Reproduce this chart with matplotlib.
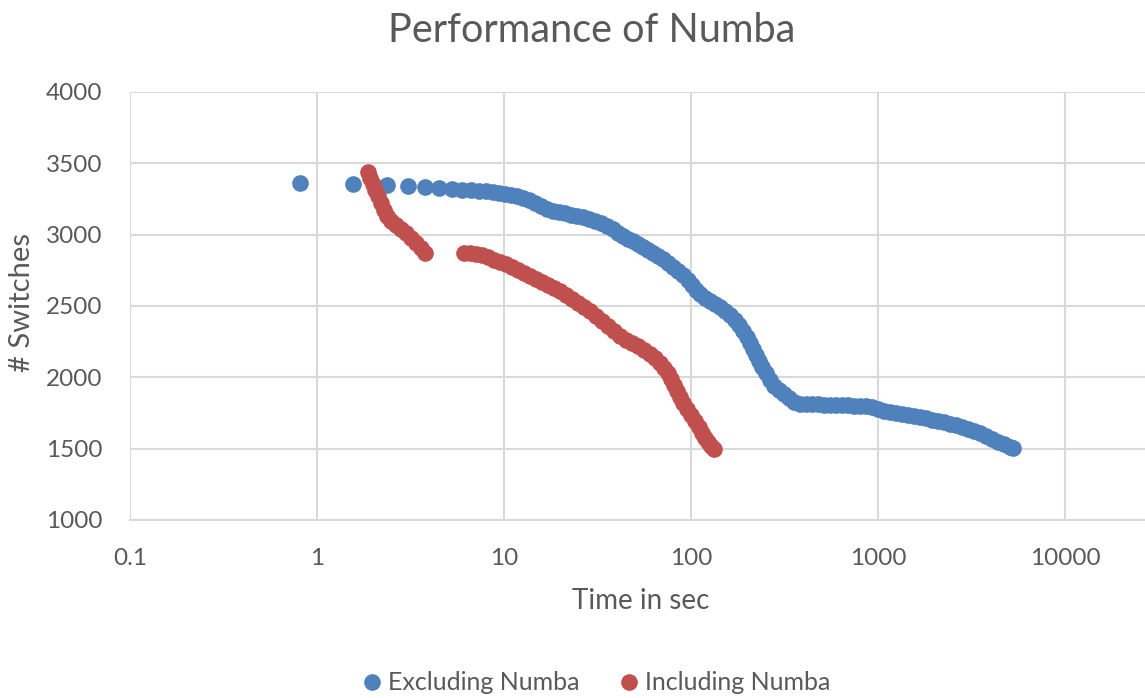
import matplotlib
matplotlib.use("Agg")
import matplotlib.pyplot as plt
from matplotlib.ticker import FixedLocator, FixedFormatter, NullLocator

plt.rcParams['font.family'] = ['Lato', 'DejaVu Sans']

# ---- data (time in sec, number of switches) ----
excl_time = [0.811, 1.557, 2.367, 3.066, 3.780, 4.491, 5.270, 5.963, 6.662, 7.350,
             8.011, 8.735, 9.404, 10.12, 10.90, 11.73, 12.64, 13.61, 14.65, 15.78,
             16.98, 18.28, 19.69, 21.20, 22.82, 24.57, 26.46, 28.48, 30.67, 33.02,
             35.55, 38.28, 40.70, 43.29, 46.04, 48.96, 52.07, 55.38, 58.90, 62.64,
             66.61, 70.84, 75.34, 80.11, 85.21, 90.62, 96.38, 101.2, 106.3, 111.7,
             118.8, 126.3, 134.4, 142.9, 152.0, 161.7, 171.9, 180.6, 189.7, 199.3,
             206.8, 214.6, 222.6, 231.0, 239.8, 251.9, 264.6, 277.9, 295.5, 314.4,
             334.3, 355.5, 382.8, 412.1, 443.8, 477.7, 514.4, 553.8, 596.3, 642.0,
             691.1, 744.2, 801.1, 862.6, 928.7, 1000, 1077, 1159, 1248, 1344,
             1447, 1558, 1677, 1806, 1945, 2094, 2254, 2427, 2613, 2813,
             3029, 3262, 3512, 3780, 4071, 4383, 4719, 5081, 5272]
excl_switches = [3362, 3355, 3348, 3341, 3334, 3327, 3320, 3313, 3313, 3306,
                 3306, 3299, 3292, 3285, 3278, 3271, 3257, 3243, 3222, 3201,
                 3180, 3166, 3159, 3152, 3138, 3131, 3124, 3110, 3096, 3082,
                 3061, 3040, 3012, 2991, 2970, 2956, 2935, 2914, 2893, 2872,
                 2851, 2830, 2802, 2774, 2745, 2717, 2682, 2647, 2612, 2584,
                 2556, 2535, 2514, 2493, 2465, 2437, 2402, 2367, 2325, 2283,
                 2241, 2199, 2157, 2115, 2073, 2030, 1981, 1939, 1911, 1883,
                 1855, 1827, 1813, 1813, 1813, 1813, 1806, 1806, 1806, 1806,
                 1806, 1799, 1799, 1799, 1792, 1778, 1764, 1757, 1750, 1743,
                 1736, 1729, 1722, 1715, 1701, 1694, 1687, 1673, 1666, 1652,
                 1638, 1624, 1610, 1589, 1568, 1547, 1533, 1512, 1505]

incl_time = [1.874, 1.921, 1.993, 2.043, 2.120, 2.199, 2.282, 2.367, 2.487, 2.646,
             2.813, 2.991, 3.182, 3.383, 3.598, 3.780,
             6.112, 6.579, 7.085, 7.627, 8.214, 8.842, 9.520, 10.25, 11.03, 11.88,
             12.79, 13.77, 14.83, 15.97, 17.19, 18.51, 19.93, 21.46, 23.10, 24.87,
             26.78, 28.83, 31.05, 33.43, 35.99, 38.75, 41.72, 44.91, 48.37, 52.07,
             56.07, 60.36, 64.20, 68.27, 71.72, 75.34, 78.16, 81.12, 84.17, 87.35,
             90.62, 95.19, 100.0, 105.0, 110.4, 114.5, 118.8, 123.3, 127.9, 132.7]
incl_switches = [3439, 3397, 3355, 3313, 3271, 3222, 3173, 3131, 3096, 3068,
                 3040, 3012, 2977, 2942, 2907, 2872,
                 2872, 2872, 2865, 2858, 2844, 2823, 2809, 2795, 2774, 2753,
                 2731, 2710, 2689, 2668, 2647, 2626, 2605, 2577, 2549, 2521,
                 2493, 2465, 2430, 2395, 2360, 2325, 2290, 2262, 2241, 2220,
                 2192, 2164, 2136, 2101, 2066, 2030, 1988, 1946, 1904, 1862,
                 1820, 1778, 1736, 1694, 1652, 1610, 1575, 1547, 1519, 1498]

x_ticks = [0.1, 1, 10, 100, 1000, 10000]
x_tick_labels = ['0.1', '1', '10', '100', '1000', '10000']
y_ticks = [1000, 1500, 2000, 2500, 3000, 3500, 4000]
y_tick_labels = ['1000', '1500', '2000', '2500', '3000', '3500', '4000']

series_names = ['Excluding Numba', 'Including Numba']
title = 'Performance of Numba'

# ---- style ----
BLUE = '#4F81BD'
RED = '#C0504D'
GRID = '#D9D9D9'
TEXT = '#595959'

W, H = 1145, 698
fig = plt.figure(figsize=(W / 100, H / 100), dpi=100)
ax_l, ax_r, ax_t, ax_b = 130, 1145, 92, 520
ax = fig.add_axes([ax_l / W, 1 - ax_b / H, (ax_r - ax_l) / W, (ax_b - ax_t) / H])

ax.set_xscale('log')
decade_px = 187.0
ax.set_xlim(0.1, 10 ** ((ax_r - ax_l) / decade_px - 1))
ax.set_ylim(1000, 4000)

ms = 12
ax.plot(excl_time, excl_switches, linestyle='none', marker='o', markersize=ms,
        markerfacecolor=BLUE, markeredgewidth=0, color=BLUE, label=series_names[0], zorder=3)
ax.plot(incl_time, incl_switches, linestyle='none', marker='o', markersize=ms,
        markerfacecolor=RED, markeredgewidth=0, color=RED, label=series_names[1], zorder=4)

ax.xaxis.set_major_locator(FixedLocator(x_ticks))
ax.xaxis.set_major_formatter(FixedFormatter(x_tick_labels))
ax.xaxis.set_minor_locator(NullLocator())
ax.yaxis.set_major_locator(FixedLocator(y_ticks))
ax.yaxis.set_major_formatter(FixedFormatter(y_tick_labels))

ax.grid(True, which='major', color=GRID, linewidth=1.5, zorder=0)
ax.set_axisbelow(True)
for side in ['top', 'right', 'left']:
    ax.spines[side].set_visible(False)
ax.spines['bottom'].set_color(GRID)
ax.spines['bottom'].set_linewidth(1.5)

ax.tick_params(axis='both', length=0, labelsize=17.5, labelcolor=TEXT)
ax.tick_params(axis='x', pad=20)
ax.tick_params(axis='y', pad=20)

ax.set_xlabel('Time in sec', fontsize=20, color=TEXT)
ax.xaxis.set_label_coords((641 - ax_l) / (ax_r - ax_l), (ax_b - 601) / (ax_b - ax_t))
ax.xaxis.label.set_va('center')
ax.set_ylabel('# Switches', fontsize=21, color=TEXT)
ax.yaxis.set_label_coords((22 - ax_l) / (ax_r - ax_l), (ax_b - 303) / (ax_b - ax_t))
ax.yaxis.label.set_va('center')

fig.suptitle(title, x=592 / W, y=1 - 30 / H, va='center', fontsize=28.5, color=TEXT)

leg = fig.legend(loc='center', bbox_to_anchor=(595 / W, 1 - 683 / H), ncol=2,
                 frameon=False, fontsize=18, handletextpad=0.15, columnspacing=1.45,
                 handlelength=1.0, markerscale=1.0)
for t in leg.get_texts():
    t.set_color(TEXT)

fig.savefig('out.png', dpi=100, facecolor='white')
